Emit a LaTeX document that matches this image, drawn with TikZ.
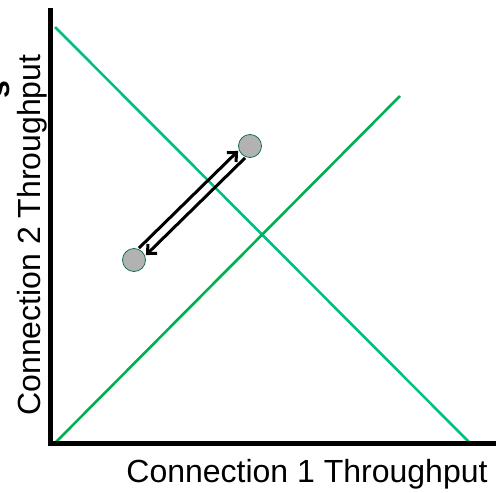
\documentclass[tikz,border=0pt]{standalone}
\usepackage{fontspec}
\setmainfont{Liberation Sans}
\usetikzlibrary{arrows.meta}
\definecolor{fairgreen}{RGB}{0,190,135}
\definecolor{effgreen}{RGB}{0,176,80}
\definecolor{ptfill}{RGB}{178,178,178}
\definecolor{ptdraw}{RGB}{20,110,90}
\begin{document}
\begin{tikzpicture}[x=1pt,y=-1pt,
  pt/.style={circle, fill=ptfill, draw=ptdraw, line width=0.8pt, inner sep=0pt, minimum size=23pt},
  arr/.style={line width=3pt, -{Straight Barb[length=7pt,width=13pt]}},
  lbl/.style={font=\fontsize{32}{38}\selectfont}]
\useasboundingbox (0,0) rectangle (496,493);
\coordinate (o) at (50,443);
\coordinate (ytop) at (50,8);
\coordinate (xend) at (496,443);
\coordinate (fa) at (55,27);
\coordinate (fb) at (470,443);
\coordinate (ea) at (55,443);
\coordinate (eb) at (400,96);
\draw[fairgreen, line width=2.6pt] (fa) -- (fb);
\draw[effgreen, line width=2.6pt] (ea) -- (eb);
\draw[line width=5pt] (ytop) -- (o) -- (xend);
\node[pt] (lo) at (134,260) {};
\node[pt] (hi) at (250,146) {};
\draw[arr] ([xshift=-3.5pt,yshift=3.5pt]lo.north east) -- ([xshift=-3.5pt,yshift=3.5pt]hi.south west);
\draw[arr] ([xshift=3.5pt,yshift=-3.5pt]hi.south west) -- ([xshift=3.5pt,yshift=-3.5pt]lo.north east);
\node[lbl, anchor=base] (xlab) at (307,482) {Connection 1 Throughput};
\node[lbl, anchor=base, rotate=90] (ylab) at (40,235) {Connection 2 Throughput};
\node[lbl, anchor=base, rotate=90, font=\fontsize{32}{38}\selectfont\bfseries] (cut) at (9.5,90) {s};
\end{tikzpicture}
\end{document}
